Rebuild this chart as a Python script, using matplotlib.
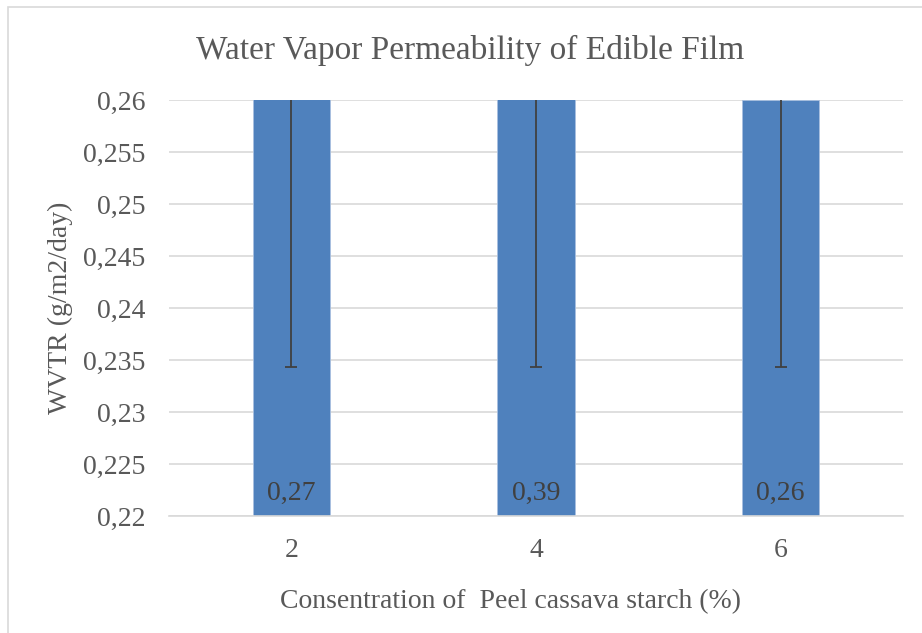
import matplotlib.pyplot as plt
from matplotlib.patches import Rectangle

# Data
concentrations = ["2", "4", "6"]
wvtr = [0.27, 0.39, 0.26]
wvtr_labels = ["0,27", "0,39", "0,26"]
err = [0.0357, 0.1557, 0.0257]  # lower whiskers all end near 0.2343
y_ticks = [0.22, 0.225, 0.23, 0.235, 0.24, 0.245, 0.25, 0.255, 0.26]
y_tick_labels = ["0,22", "0,225", "0,23", "0,235", "0,24", "0,245", "0,25", "0,255", "0,26"]

plt.rcParams['font.family'] = ['Liberation Serif', 'DejaVu Serif']
text_col = "#595959"

fig = plt.figure(figsize=(9.22, 6.33), dpi=100, facecolor="white")
ax = fig.add_axes([169 / 922, 1 - 516 / 633, 734 / 922, 416 / 633])

# Outer chart border (cut off on the right and bottom, as in the source)
fig.patches.append(Rectangle((8 / 922, -0.05), 1.0, 1 - 7 / 633 + 0.05,
                             transform=fig.transFigure, fill=False,
                             ec="#D9D9D9", lw=1.2, zorder=0))

x = range(len(concentrations))
ax.bar(x, wvtr, width=0.315, color="#4F81BD", edgecolor="#A9C0E0", lw=0.6, zorder=2)
ax.errorbar(x, wvtr, yerr=err, fmt="none", ecolor="#404040", elinewidth=1.3,
            capsize=4.5, capthick=1.3, zorder=3)

for xi, lab in zip(x, wvtr_labels):
    ax.annotate(lab, xy=(xi, 0.22), xytext=(0, 11.5), textcoords="offset points",
                ha="center", va="baseline", fontsize=20, color="#404040", zorder=4)

ax.set_xlim(-0.5, len(concentrations) - 0.5)
ax.set_ylim(0.22, 0.26)
ax.set_xticks(list(x))
ax.set_xticklabels(concentrations)
ax.set_yticks(y_ticks)
ax.set_yticklabels(y_tick_labels)
ax.tick_params(length=0, labelsize=20, labelcolor=text_col)
ax.tick_params(axis="y", pad=17)
ax.tick_params(axis="x", pad=16)

ax.grid(axis="y", color="#D9D9D9", lw=1.2, zorder=0)
ax.set_axisbelow(True)
for s in ["top", "right", "left"]:
    ax.spines[s].set_visible(False)
ax.spines["bottom"].set_color("#D9D9D9")
ax.spines["bottom"].set_linewidth(1.2)

ax.set_ylabel("WVTR (g/m2/day)", fontsize=20, color=text_col, va="center")
ax.yaxis.set_label_coords((60 - 169) / 734, 0.5)
ax.set_xlabel("Consentration of  Peel cassava starch (%)", fontsize=20,
              color=text_col, va="center")
ax.xaxis.set_label_coords((510 - 169) / 734, (516 - 602) / 416)
fig.text(470 / 922, 1 - 50 / 633, "Water Vapor Permeability of Edible Film",
         ha="center", va="center", fontsize=24, color=text_col)

plt.savefig("out.png", dpi=100, facecolor="white")
